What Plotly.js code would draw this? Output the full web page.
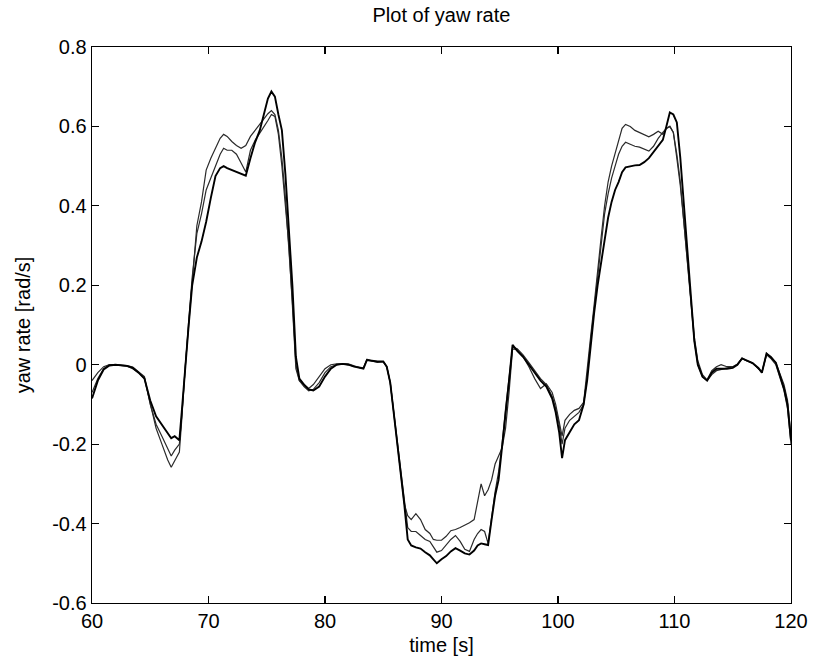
<!DOCTYPE html>
<html>
<head>
<meta charset="utf-8">
<script src="https://cdn.plot.ly/plotly-3.0.1.min.js"></script>
<style>html,body{margin:0;padding:0;background:#fff;}#chart{width:813px;height:664px;}</style>
</head>
<body>
<div id="chart"></div>
<script>
// time [s]
var timeS = [60, 60.5, 61, 61.5, 62, 63, 63.5, 64, 64.5, 65, 65.5, 66, 66.5, 66.8, 67.1, 67.5, 67.7, 68, 68.3, 68.6,
  69, 69.4, 69.8, 70.2, 70.6, 71, 71.3, 71.6, 72, 72.4, 72.8, 73.2, 73.6, 74, 74.4, 74.8, 75.1, 75.4, 75.7, 76,
  76.3, 76.6, 76.9, 77.2, 77.5, 77.8, 78.2, 78.6, 79, 79.5, 80, 80.5, 81, 81.5, 82, 82.5, 83, 83.3, 83.6, 84,
  84.5, 85, 85.3, 85.6, 85.9, 86.2, 86.5, 86.8, 87.1, 87.4, 87.8, 88.2, 88.6, 89, 89.3, 89.6, 90, 90.4, 90.8, 91.2,
  91.6, 92, 92.4, 92.8, 93.1, 93.4, 93.7, 94, 94.3, 94.6, 94.9, 95.2, 95.5, 95.8, 96.1, 96.5, 97, 97.5, 98, 98.5,
  99, 99.5, 99.8, 100.1, 100.35, 100.6, 101, 101.4, 101.8, 102.2, 102.5, 102.8, 103.1, 103.4, 103.7, 104, 104.3, 104.6, 104.9, 105.2,
  105.5, 105.8, 106.2, 106.6, 107, 107.4, 107.8, 108.2, 108.6, 109, 109.3, 109.6, 109.9, 110.2, 110.5, 110.8, 111.1, 111.4, 111.7, 112,
  112.4, 112.8, 113.2, 113.6, 114, 114.5, 115, 115.4, 115.8, 116.2, 116.7, 117.2, 117.5, 117.9, 118.3, 118.7, 119.1, 119.4, 119.7, 120];

// yaw rate [rad/s], three traces
var yawA = [-0.085, -0.04, -0.012, -0.002, 0.0, -0.003, -0.008, -0.02, -0.035, -0.09, -0.13, -0.15, -0.17, -0.185, -0.18, -0.19, -0.12, 0.0, 0.1, 0.2,
  0.27, 0.31, 0.36, 0.42, 0.475, 0.495, 0.5, 0.495, 0.49, 0.486, 0.48, 0.476, 0.52, 0.56, 0.59, 0.64, 0.67, 0.688, 0.675, 0.63,
  0.59, 0.48, 0.35, 0.2, 0.02, -0.035, -0.05, -0.062, -0.065, -0.055, -0.03, -0.01, 0.0, 0.002, 0.0, -0.005, -0.008, -0.01, 0.012, 0.01,
  0.008, 0.008, -0.005, -0.045, -0.12, -0.2, -0.26, -0.35, -0.44, -0.455, -0.46, -0.463, -0.472, -0.48, -0.49, -0.5, -0.49, -0.482, -0.47, -0.462,
  -0.468, -0.475, -0.478, -0.468, -0.455, -0.45, -0.452, -0.454, -0.39, -0.33, -0.29, -0.21, -0.12, -0.04, 0.05, 0.035, 0.02, 0.0, -0.02, -0.04,
  -0.055, -0.085, -0.12, -0.17, -0.235, -0.19, -0.17, -0.15, -0.14, -0.1, -0.04, 0.05, 0.13, 0.2, 0.26, 0.31, 0.37, 0.41, 0.44, 0.46,
  0.485, 0.497, 0.5, 0.502, 0.503, 0.51, 0.52, 0.535, 0.55, 0.566, 0.6, 0.635, 0.63, 0.61, 0.52, 0.4, 0.28, 0.16, 0.06, 0.0,
  -0.03, -0.04, -0.02, -0.01, -0.01, -0.01, -0.008, 0.0, 0.016, 0.01, 0.004, -0.008, -0.02, 0.028, 0.018, 0.005, -0.03, -0.06, -0.1, -0.19];

var yawB = [-0.07, -0.035, -0.01, 0.0, 0.0, -0.002, -0.006, -0.018, -0.03, -0.1, -0.15, -0.18, -0.21, -0.23, -0.215, -0.2, -0.13, 0.0, 0.11, 0.22,
  0.33, 0.38, 0.44, 0.47, 0.5, 0.53, 0.545, 0.54, 0.54, 0.53, 0.508, 0.485, 0.54, 0.565, 0.583, 0.6, 0.615, 0.63, 0.625, 0.58,
  0.5, 0.4, 0.3, 0.15, -0.01, -0.04, -0.055, -0.066, -0.062, -0.045, -0.02, -0.005, 0.0, 0.003, 0.002, -0.003, -0.008, -0.008, 0.014, 0.01,
  0.008, 0.008, -0.005, -0.045, -0.12, -0.2, -0.26, -0.35, -0.41, -0.42, -0.42, -0.43, -0.44, -0.445, -0.46, -0.472, -0.468, -0.455, -0.44, -0.43,
  -0.445, -0.465, -0.47, -0.44, -0.425, -0.415, -0.42, -0.45, -0.38, -0.32, -0.27, -0.2, -0.11, -0.03, 0.045, 0.04, 0.025, 0.005, -0.015, -0.035,
  -0.05, -0.08, -0.11, -0.15, -0.2, -0.16, -0.14, -0.13, -0.12, -0.1, -0.03, 0.06, 0.14, 0.22, 0.3, 0.38, 0.43, 0.47, 0.5, 0.53,
  0.55, 0.56, 0.555, 0.55, 0.548, 0.542, 0.538, 0.55, 0.57, 0.585, 0.595, 0.6, 0.585, 0.52, 0.45, 0.36, 0.26, 0.15, 0.06, 0.0,
  -0.03, -0.04, -0.025, -0.015, -0.012, -0.01, -0.005, 0.002, 0.016, 0.01, 0.004, -0.01, -0.02, 0.025, 0.015, 0.0, -0.035, -0.065, -0.11, -0.2];

var yawC = [-0.04, -0.02, -0.005, 0.0, 0.0, -0.004, -0.01, -0.02, -0.035, -0.1, -0.16, -0.2, -0.24, -0.258, -0.24, -0.22, -0.14, -0.005, 0.1, 0.21,
  0.35, 0.41, 0.49, 0.52, 0.545, 0.57, 0.58, 0.575, 0.562, 0.552, 0.545, 0.552, 0.575, 0.59, 0.606, 0.62, 0.632, 0.64, 0.63, 0.59,
  0.52, 0.42, 0.3, 0.16, 0.0, -0.04, -0.05, -0.06, -0.05, -0.03, -0.01, 0.0, 0.002, 0.002, 0.0, -0.004, -0.006, -0.008, 0.012, 0.01,
  0.006, 0.008, -0.005, -0.045, -0.12, -0.2, -0.26, -0.35, -0.38, -0.39, -0.375, -0.39, -0.415, -0.425, -0.44, -0.442, -0.442, -0.432, -0.418, -0.415,
  -0.41, -0.405, -0.398, -0.39, -0.34, -0.3, -0.33, -0.315, -0.29, -0.25, -0.23, -0.21, -0.16, -0.07, 0.04, 0.038, 0.02, -0.005, -0.035, -0.06,
  -0.048, -0.07, -0.1, -0.14, -0.18, -0.14, -0.125, -0.115, -0.11, -0.095, -0.02, 0.07, 0.15, 0.24, 0.32, 0.4, 0.46, 0.5, 0.53, 0.56,
  0.595, 0.605, 0.6, 0.59, 0.585, 0.578, 0.574, 0.58, 0.588, 0.58, 0.595, 0.6, 0.585, 0.53, 0.46, 0.36, 0.26, 0.16, 0.07, 0.01,
  -0.025, -0.038, -0.015, -0.005, 0.0, -0.005, -0.005, 0.0, 0.016, 0.01, 0.004, -0.01, -0.018, 0.028, 0.02, 0.005, -0.025, -0.05, -0.09, -0.18];

var xTicks = [60, 70, 80, 90, 100, 110, 120];
var yTicks = [-0.6, -0.4, -0.2, 0, 0.2, 0.4, 0.6, 0.8];
var yTickText = ['-0.6', '-0.4', '-0.2', '0', '0.2', '0.4', '0.6', '0.8'];

var fontFam = 'Liberation Sans, Arial, Helvetica, sans-serif';
var traces = [
  {x: timeS, y: yawB, mode: 'lines', line: {color: '#2a2a2a', width: 1.2}, hoverinfo: 'skip'},
  {x: timeS, y: yawC, mode: 'lines', line: {color: '#2a2a2a', width: 1.2}, hoverinfo: 'skip'},
  {x: timeS, y: yawA, mode: 'lines', line: {color: '#000', width: 1.9}, hoverinfo: 'skip'}
];

var axisCommon = {
  showgrid: false, zeroline: false, showline: true, linecolor: '#000', linewidth: 1.4,
  mirror: 'allticks', ticks: 'inside', ticklen: 7, tickcolor: '#000', tickwidth: 1.2,
  tickfont: {family: fontFam, size: 20, color: '#000'}
};

var layout = {
  width: 813, height: 664,
  margin: {l: 92, r: 22, t: 47, b: 61},
  paper_bgcolor: '#fff', plot_bgcolor: '#fff',
  showlegend: false,
  title: {text: 'Plot of yaw rate', font: {family: fontFam, size: 20, color: '#000'}, x: 0.543, xanchor: 'center', y: 0.978, yanchor: 'middle'},
  xaxis: Object.assign({}, axisCommon, {
    range: [60, 120], tickmode: 'array', tickvals: xTicks, ticktext: xTicks.map(String),
    title: {text: 'time [s]', font: {family: fontFam, size: 20, color: '#000'}, standoff: 6}
  }),
  yaxis: Object.assign({}, axisCommon, {
    range: [-0.6, 0.8], tickmode: 'array', tickvals: yTicks, ticktext: yTickText,
    title: {text: 'yaw rate [rad/s]', font: {family: fontFam, size: 20, color: '#000'}, standoff: 16}
  })
};

Plotly.newPlot('chart', traces, layout, {staticPlot: true, displayModeBar: false});
</script>
</body>
</html>
